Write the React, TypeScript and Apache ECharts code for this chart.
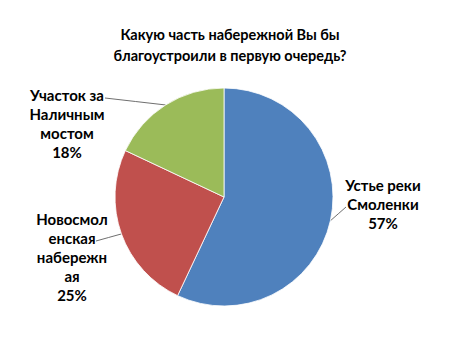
import React, { useEffect, useRef } from "react";
import * as echarts from "echarts";

const titleText = "Какую часть набережной Вы бы\nблагоустроили в первую очередь?";
const categories = ["Устье реки Смоленки", "Новосмоленская набережная", "Участок за Наличным мостом"];
const labelTexts = ["Устье реки\nСмоленки", "Новосмол\nенская\nнабережн\nая", "Участок за\nНаличным\nмостом"];
const values = [57, 25, 18];
const colors = ["#4F81BD", "#C0504D", "#9BBB59"];
// label layout (centre of each label block, and where its leader line meets the text)
const labelPos: [number, number][] = [
  [383, 204],
  [72, 257],
  [67, 123],
];
const leaderEnd: [number, number][] = [
  [346, 207],
  [96, 241],
  [105, 98],
];

export default function App() {
  const ref = useRef<HTMLDivElement>(null);
  useEffect(() => {
    if (!ref.current) return;
    const chart = echarts.init(ref.current, undefined, { renderer: "svg" });
    const font = "Lato, 'Open Sans', sans-serif";
    chart.setOption({
      animation: false,
      backgroundColor: "#ffffff",
      title: {
        text: titleText,
        left: 225,
        textAlign: "center",
        top: 19,
        textStyle: { fontFamily: font, fontSize: 14.5, fontWeight: "bold", color: "#000", lineHeight: 21 },
      },
      series: [
        {
          type: "pie",
          center: [224, 197],
          radius: 109,
          startAngle: 90,
          clockwise: true,
          itemStyle: { borderColor: "#ffffff", borderWidth: 0.8 },
          data: categories.map((name, i) => ({
            name,
            value: values[i],
            itemStyle: { color: colors[i] },
          })),
          label: {
            show: true,
            position: "outside",
            formatter: (p: any) => labelTexts[p.dataIndex] + "\n" + values[p.dataIndex] + "%",
            fontFamily: font,
            fontSize: 15,
            fontWeight: "bold",
            color: "#000",
            lineHeight: 19,
            align: "center",
          },
          labelLine: { show: true, length: 8, length2: 8, smooth: false, lineStyle: { color: "#6f6f6f", width: 1 } },
          labelLayout: (params: any) => {
            const i = params.dataIndex;
            const pos = labelPos[i];
            const out: any = { x: pos[0], y: pos[1], align: "center", verticalAlign: "middle" };
            const pts = params.labelLinePoints;
            if (pts && pts.length) {
              const a = pts[0];
              const b = leaderEnd[i];
              out.labelLinePoints = [a, [(a[0] + b[0]) / 2, (a[1] + b[1]) / 2], b];
            }
            return out;
          },
        },
      ],
    });
    return () => chart.dispose();
  }, []);
  return <div ref={ref} style={{ position: "fixed", left: 0, top: 0, width: 474, height: 355 }} />;
}
